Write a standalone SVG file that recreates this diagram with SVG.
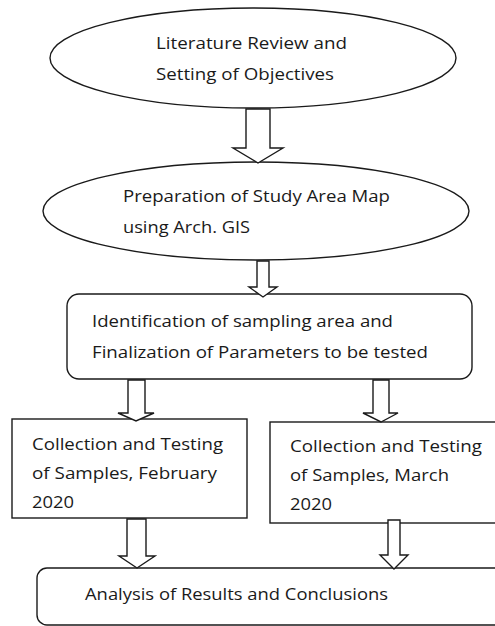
<svg xmlns="http://www.w3.org/2000/svg" width="495" height="626" viewBox="0 0 495 626">
<style>
.s{fill:#fff;stroke:#1a1a1a;stroke-width:1.4}
.a{fill:#fff;stroke:#1a1a1a;stroke-width:1.4;stroke-linejoin:miter}
text{font-family:"Open Sans","Liberation Sans",sans-serif;font-size:17px;fill:#1a1a1a}
</style>
<rect width="495" height="626" fill="#fff"/>
<g id="n1">
<ellipse class="s" cx="253" cy="58" rx="203" ry="50"/>
<text x="156" y="49" textLength="191" lengthAdjust="spacingAndGlyphs">Literature Review and</text>
<text x="156" y="80" textLength="178" lengthAdjust="spacingAndGlyphs">Setting of Objectives</text>
</g>
<g id="n2">
<ellipse class="s" cx="256" cy="211" rx="213" ry="49"/>
<text x="123" y="202" textLength="267" lengthAdjust="spacingAndGlyphs">Preparation of Study Area Map</text>
<text x="123" y="233" textLength="127" lengthAdjust="spacingAndGlyphs">using Arch. GIS</text>
</g>
<g id="n3">
<rect class="s" x="67" y="294" width="405" height="85" rx="12"/>
<text x="92" y="327" textLength="301" lengthAdjust="spacingAndGlyphs">Identification of sampling area and</text>
<text x="92" y="358" textLength="336" lengthAdjust="spacingAndGlyphs">Finalization of Parameters to be tested</text>
</g>
<g id="n4">
<rect class="s" x="12" y="419" width="235" height="99"/>
<text x="32" y="450" textLength="191" lengthAdjust="spacingAndGlyphs">Collection and Testing</text>
<text x="32" y="479" textLength="185" lengthAdjust="spacingAndGlyphs">of Samples, February</text>
<text x="32" y="508" textLength="42" lengthAdjust="spacingAndGlyphs">2020</text>
</g>
<g id="n5">
<rect class="s" x="270" y="422" width="235" height="101"/>
<text x="290" y="452" textLength="192" lengthAdjust="spacingAndGlyphs">Collection and Testing</text>
<text x="290" y="481" textLength="159" lengthAdjust="spacingAndGlyphs">of Samples, March</text>
<text x="290" y="510" textLength="42" lengthAdjust="spacingAndGlyphs">2020</text>
</g>
<g id="n6">
<rect class="s" x="37" y="568" width="470" height="57" rx="10"/>
<text x="85" y="600" textLength="303" lengthAdjust="spacingAndGlyphs">Analysis of Results and Conclusions</text>
</g>
<g id="connectors">
<polygon class="a" points="246,109 270,109 270,148 283,148 258,163 233,148 246,148"/>
<polygon class="a" points="257,261 269,261 269,287 277,287 263,297 249,287 257,287"/>
<polygon class="a" points="128,380 145,380 145,413 154,413 136,421 118,413 128,413"/>
<polygon class="a" points="373,380 389,380 389,413 398,413 381,422 363,413 373,413"/>
<polygon class="a" points="127,519 146,519 146,556 155,556 137,568 119,556 127,556"/>
<polygon class="a" points="388,520 400,520 400,555 408,555 394,569 380,555 388,555"/>
</g>
</svg>
